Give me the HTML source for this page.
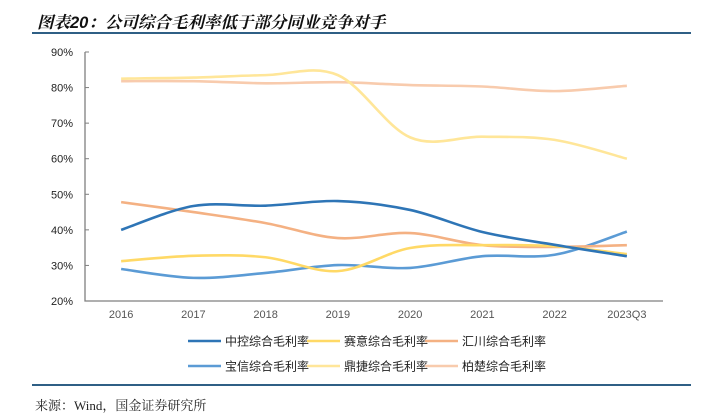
<!DOCTYPE html>
<html><head><meta charset="utf-8"><style>
body{margin:0;width:707px;height:401px;background:#fff;overflow:hidden;position:relative;font-family:"Liberation Sans","Noto Sans CJK SC",sans-serif}
#title{position:absolute;left:37px;top:9px;font-size:16.5px;font-weight:bold;font-style:italic;color:#111;font-family:"Liberation Sans","Noto Serif CJK SC",serif;white-space:nowrap}
.rule{position:absolute;left:32px;width:659px;height:2px;background:#2f5f85}
#src{position:absolute;left:35px;top:395px;font-size:13px;color:#222;font-family:"Liberation Serif","Noto Serif CJK SC",serif}
</style></head><body>
<div id="title">图表20：公司综合毛利率低于部分同业竞争对手</div>
<div class="rule" style="top:32px"></div>
<svg id="chart" width="707" height="401" style="position:absolute;left:0;top:0"></svg>
<div class="rule" style="top:384px"></div>
<div id="src">来源：Wind，国金证券研究所</div>
<script>
const categories=["2016","2017","2018","2019","2020","2021","2022","2023Q3"];
const yTicks=[20,30,40,50,60,70,80,90];
const seriesNames=["中控综合毛利率","赛意综合毛利率","汇川综合毛利率","宝信综合毛利率","鼎捷综合毛利率","柏楚综合毛利率"];
const zhongkong=[40.0,46.7,46.8,48.1,45.6,39.4,35.8,32.6];
const saiyi=[31.2,32.7,32.3,28.4,34.9,35.7,35.4,33.2];
const huichuan=[47.8,45.0,41.9,37.7,39.1,35.7,35.2,35.7];
const baoxin=[29.0,26.5,27.9,30.1,29.3,32.6,33.0,39.5];
const dingjie=[82.5,82.8,83.5,83.5,66.0,66.2,65.3,60.0];
const baichu=[81.8,81.8,81.2,81.5,80.7,80.3,79.0,80.5];
const seriesData=[zhongkong,saiyi,huichuan,baoxin,dingjie,baichu];
const colors=["#2E75B6","#FFD966","#F4B183","#5B9BD5","#FFE699","#F8CBAD"];
const ns="http://www.w3.org/2000/svg";
const svg=document.getElementById('chart');
const X0=85,X1=663,Y0=301,Y1=52,ymin=20,ymax=90;
const band=(X1-X0)/categories.length;
const xs=i=>X0+band*(i+0.5);
const ys=v=>Y0-(v-ymin)/(ymax-ymin)*(Y0-Y1);
function mk(t,a){const e=document.createElementNS(ns,t);for(const k in a)e.setAttribute(k,a[k]);svg.appendChild(e);return e;}
let ax=mk('path',{d:`M${X0},${Y1}V${Y0}H${X1}`,stroke:'#7f7f7f','stroke-width':1.3,fill:'none'});


yTicks.forEach(v=>{
 let tk=mk('line',{x1:X0,x2:X0+4,y1:ys(v),y2:ys(v),stroke:'#7f7f7f'});
 
 
 let t=mk('text',{x:73,y:ys(v)+4,'text-anchor':'end','font-size':11,fill:'#222'});
 t.textContent=v+'%';
 
 
});
categories.forEach((c,i)=>{
 let t=mk('text',{x:xs(i),y:318,'text-anchor':'middle','font-size':11,fill:'#555'});
 t.textContent=c;
 
 
});
function smooth(p){let d=`M${p[0][0]},${p[0][1]}`;for(let i=0;i<p.length-1;i++){const p0=p[i-1]||p[i],p1=p[i],p2=p[i+1],p3=p[i+2]||p2;const t=1/6;d+=`C${p1[0]+(p2[0]-p0[0])*t},${p1[1]+(p2[1]-p0[1])*t} ${p2[0]-(p3[0]-p1[0])*t},${p2[1]-(p3[1]-p1[1])*t} ${p2[0]},${p2[1]}`;}return d;}
[5,4,3,2,1,0].forEach(s=>{
 const pts=seriesData[s].map((v,i)=>[xs(i),ys(v)]);
 let p=mk('path',{d:smooth(pts),stroke:colors[s],'stroke-width':2.6,fill:'none'});
 
 
});
const lx=[188,307,425],ly=[341,366];
seriesNames.forEach((n,i)=>{
 const x=lx[i%3],y=ly[Math.floor(i/3)];
 let l=mk('line',{x1:x,x2:x+33,y1:y,y2:y,stroke:colors[i],'stroke-width':2.6});
 
 
 let t=mk('text',{x:x+37,y:y+4.5,'font-size':12,fill:'#222'});
 t.textContent=n;
 
 
});
</script>
</body></html>
